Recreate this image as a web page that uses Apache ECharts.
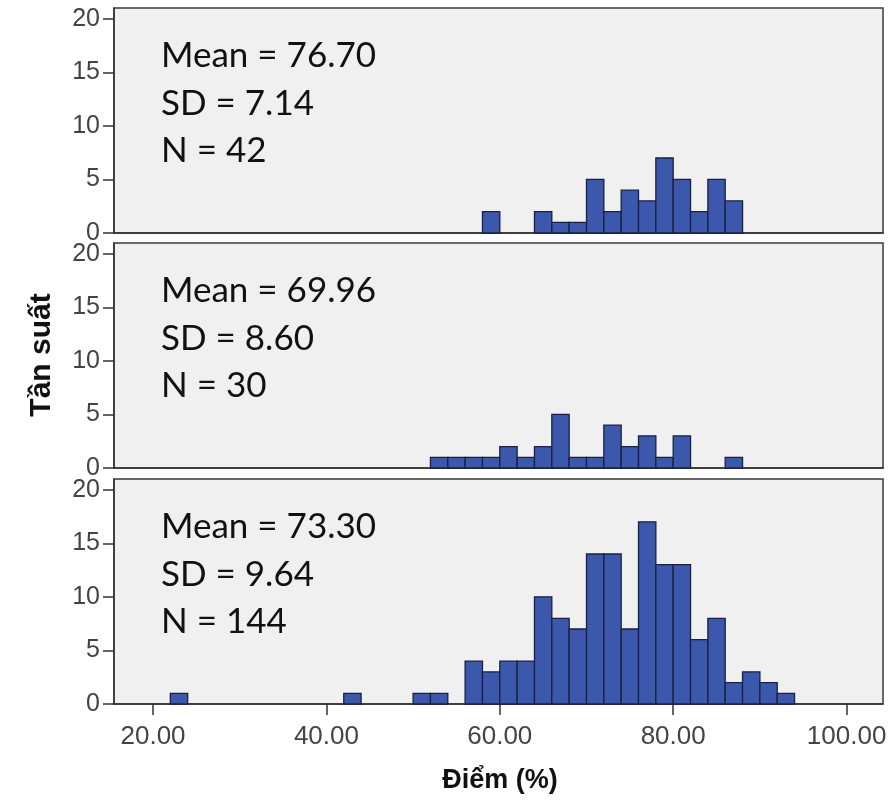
<!DOCTYPE html>
<html>
<head>
<meta charset="utf-8">
<script src="https://cdn.jsdelivr.net/npm/echarts@6/dist/echarts.min.js"></script>
<style>html,body{margin:0;padding:0;background:#fff}#c{width:890px;height:807px}</style>
</head>
<body>
<div id="c"></div>
<script>
// Bin width 2 (score %), bins identified by start value
var binWidth = 2;
var binStarts1 = [58, 64, 66, 68, 70, 72, 74, 76, 78, 80, 82, 84, 86];
var counts1    = [2, 2, 1, 1, 5, 2, 4, 3, 7, 5, 2, 5, 3];
var binStarts2 = [52, 54, 56, 58, 60, 62, 64, 66, 68, 70, 72, 74, 76, 78, 80, 86];
var counts2    = [1, 1, 1, 1, 2, 1, 2, 5, 1, 1, 4, 2, 3, 1, 3, 1];
var binStarts3 = [22, 42, 50, 52, 56, 58, 60, 62, 64, 66, 68, 70, 72, 74, 76, 78, 80, 82, 84, 86, 88, 90, 92];
var counts3    = [1, 1, 1, 1, 4, 3, 4, 4, 10, 8, 7, 14, 14, 7, 17, 13, 13, 6, 8, 2, 3, 2, 1];
var stats = [
  ["Mean = 76.70", "SD = 7.14", "N = 42"],
  ["Mean = 69.96", "SD = 8.60", "N = 30"],
  ["Mean = 73.30", "SD = 9.64", "N = 144"]
];
var yTicks = [0, 5, 10, 15, 20];
var xTicks = [20, 40, 60, 80, 100];
var yTitle = "Tần suất";
var xTitle = "Điểm (%)";

var chart = echarts.init(document.getElementById('c'));
var gridTops = [8, 243, 479];
var gridH = 225;
var grids = [], xAxes = [], yAxes = [], series = [], graphics = [];
var allStarts = [binStarts1, binStarts2, binStarts3];
var allCounts = [counts1, counts2, counts3];

for (var i = 0; i < 3; i++) {
  grids.push({left: 114, width: 769, top: gridTops[i], height: gridH, show: true,
    backgroundColor: '#f0f0f0', borderColor: '#3a3a3a', borderWidth: 1.5});
  xAxes.push({type: 'value', gridIndex: i, min: 15.5, max: 104.2,
    axisLine: {show: true, onZero: false, lineStyle: {color: '#333', width: 1.5}},
    axisTick: {show: i === 2, customValues: xTicks, length: 11, inside: false, lineStyle: {color: '#333', width: 1.5}},
    axisLabel: {show: i === 2, customValues: xTicks, margin: 20, color: '#444',
      fontFamily: 'Liberation Sans', fontSize: 26,
      formatter: function (v) { return v.toFixed(2); }},
    splitLine: {show: false}});
  yAxes.push({type: 'value', gridIndex: i, min: 0, max: 21,
    axisLine: {show: true, lineStyle: {color: '#333', width: 1.5}},
    axisTick: {show: true, customValues: yTicks, length: 11, lineStyle: {color: '#333', width: 1.5}},
    axisLabel: {customValues: yTicks, margin: 14, color: '#444',
      fontFamily: 'Liberation Sans', fontSize: 25},
    splitLine: {show: false}});
  var data = allStarts[i].map(function (s, k) { return [s, s + binWidth, allCounts[i][k]]; });
  series.push({type: 'custom', xAxisIndex: i, yAxisIndex: i, data: data,
    encode: {x: [0, 1], y: 2},
    renderItem: function (params, api) {
      var p0 = api.coord([api.value(0), 0]);
      var p1 = api.coord([api.value(1), api.value(2)]);
      return {type: 'rect', shape: {x: p0[0], y: p1[1], width: p1[0] - p0[0], height: p0[1] - p1[1]},
        style: {fill: '#3b58ac', stroke: '#1a2040', lineWidth: 1.3}};
    }});
  for (var j = 0; j < 3; j++) {
    graphics.push({type: 'text', x: 161, y: gridTops[i] + 48 + j * 47.5,
      style: {text: stats[i][j], font: '35px Lato', fill: '#111', verticalAlign: 'middle'}});
  }
}
graphics.push({type: 'text', x: 42, y: 355, rotation: Math.PI / 2,
  style: {text: yTitle, font: 'bold 30px "Liberation Sans"', fill: '#111', align: 'center', verticalAlign: 'middle'}});
graphics.push({type: 'text', x: 500, y: 781,
  style: {text: xTitle, font: 'bold 27px "Liberation Sans"', fill: '#111', align: 'center', verticalAlign: 'middle'}});

chart.setOption({animation: false, grid: grids, xAxis: xAxes, yAxis: yAxes, series: series, graphic: graphics});
</script>
</body>
</html>
